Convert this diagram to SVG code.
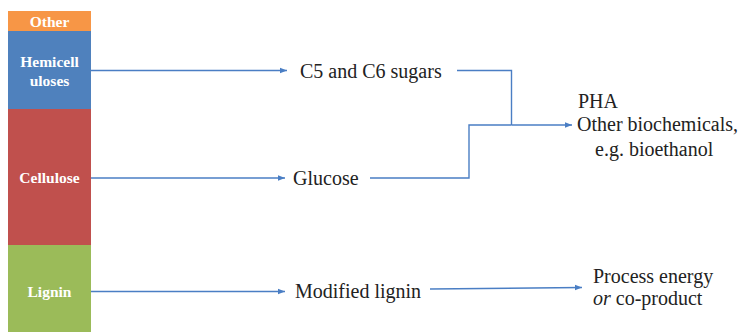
<svg xmlns="http://www.w3.org/2000/svg" width="745" height="332" viewBox="0 0 745 332">
  <defs>
    <marker id="arrow" markerWidth="8" markerHeight="8" refX="7" refY="4" orient="auto" markerUnits="userSpaceOnUse">
      <path d="M0,1.2 L7,4 L0,6.8 Z" fill="#4A7EC4"/>
    </marker>
  </defs>
  <style>
    text { font-family: 'Liberation Serif', 'DejaVu Serif', serif; }
    .bar-label { font-weight: bold; fill: #ffffff; text-anchor: middle; font-size: 15.5px; }
    .node-text { fill: #222222; font-size: 20px; }
    .conn { fill: none; stroke: #4A7EC4; stroke-width: 1.4; }
  </style>
  <rect width="745" height="332" fill="#ffffff"/>

  <g id="bar-other">
    <rect x="8" y="11" width="83" height="20" fill="#F79646"/>
    <text class="bar-label" x="49.5" y="27">Other</text>
  </g>
  <g id="bar-hemicelluloses">
    <rect x="8" y="31" width="83" height="78" fill="#4F81BD"/>
    <text class="bar-label" x="49.5" y="67">Hemicell</text>
    <text class="bar-label" x="49.5" y="86">uloses</text>
  </g>
  <g id="bar-cellulose">
    <rect x="8" y="109" width="83" height="136" fill="#C0504D"/>
    <text class="bar-label" x="49.5" y="183">Cellulose</text>
  </g>
  <g id="bar-lignin">
    <rect x="8" y="245" width="83" height="87" fill="#9BBB59"/>
    <text class="bar-label" x="49.5" y="297">Lignin</text>
  </g>

  <g id="node-sugars">
    <text class="node-text" x="300" y="78">C5 and C6 sugars</text>
  </g>
  <g id="node-glucose">
    <text class="node-text" x="293" y="185">Glucose</text>
  </g>
  <g id="node-modified-lignin">
    <text class="node-text" x="295" y="298">Modified lignin</text>
  </g>
  <g id="node-biochemicals">
    <text class="node-text" x="578" y="108">PHA</text>
    <text class="node-text" x="577" y="131">Other biochemicals,</text>
    <text class="node-text" x="595" y="156">e.g. bioethanol</text>
  </g>
  <g id="node-energy">
    <text class="node-text" x="593" y="283">Process energy</text>
    <text class="node-text" x="593" y="305"><tspan font-style="italic">or</tspan> co-product</text>
  </g>

  <g id="connectors">
    <line class="conn" x1="91" y1="70.5" x2="287" y2="70.5" marker-end="url(#arrow)"/>
    <line class="conn" x1="91" y1="178" x2="285" y2="178" marker-end="url(#arrow)"/>
    <line class="conn" x1="91" y1="291.5" x2="285" y2="291.5" marker-end="url(#arrow)"/>
    <polyline class="conn" points="457,70.5 511.5,70.5 511.5,125"/>
    <polyline class="conn" points="370,178 469,178 469,125 511.5,125"/>
    <line class="conn" x1="511.5" y1="125" x2="572" y2="125" marker-end="url(#arrow)"/>
    <line class="conn" x1="430" y1="289" x2="582" y2="287.5" marker-end="url(#arrow)"/>
  </g>
</svg>
